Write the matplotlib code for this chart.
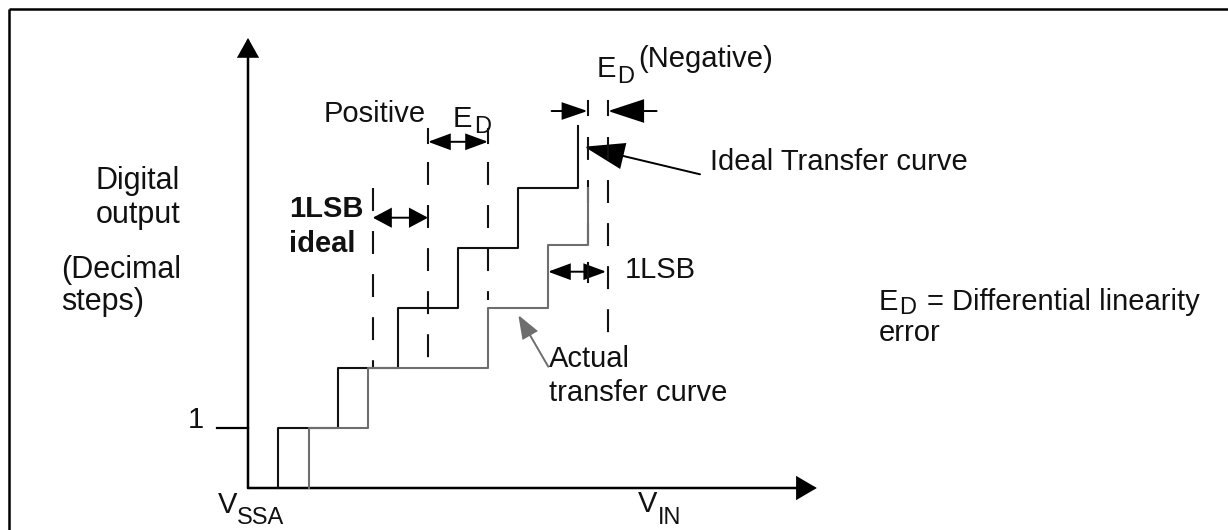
import numpy as np
import matplotlib
matplotlib.use("Agg")
import matplotlib.pyplot as plt
from matplotlib.patches import FancyArrowPatch

plt.rcParams['font.family'] = ['Liberation Sans', 'DejaVu Sans']
plt.rcParams['lines.scale_dashes'] = False

# ---- data (x in LSB, y in output codes) ----
ideal_x = [0.5, 0.5, 1.5, 2.5, 3.5, 4.5, 5.5]
ideal_y = [0, 1, 2, 3, 4, 5, 6.03]
actual_x = [1.02, 1.02, 2.0, 4.0, 5.0, 5.66]
actual_y = [0, 1, 2, 3, 4.05, 5.0]
marker_x = [2.08, 3.0, 4.0, 5.66, 6.0]
marker_top = [5.0, 5.43, 5.43, 5.85, 5.85]
marker_bottom = [2.0, 2.0, 3.13, 4.05, 2.47]
x_axis_end = 9.48
y_axis_end = 7.5
tick_one = 1

PX = 60.0          # pixels per unit
X0, Y0 = 248, 488  # pixel position of the origin

fig = plt.figure(figsize=(12.28, 5.30), dpi=100)
ax = fig.add_axes([0, 0, 1, 1])
ax.set_xlim(-X0 / PX, (1228 - X0) / PX)
ax.set_ylim((Y0 - 530) / PX, Y0 / PX)
ax.axis('off')


def P(px, py):
    return ((px - X0) / PX, (Y0 - py) / PX)


def arrow(p0, p1, style='-|>', hl=16, hw=9, color='black', lw=1.4):
    k = 100 / 72.0
    a = FancyArrowPatch(p0, p1,
                        arrowstyle=f"{style},head_length={hl / k},head_width={hw / k}",
                        mutation_scale=1, shrinkA=0, shrinkB=0,
                        color=color, lw=lw, joinstyle='miter')
    ax.add_patch(a)


BLACK = '#111111'
GRAY = '#6e6e6e'

# frame (left and top)
fx, fy = P(9, 9)
ax.plot([fx, fx], [ax.get_ylim()[0], fy], color='black', lw=1.8, solid_capstyle='butt')
ax.plot([fx, ax.get_xlim()[1]], [fy, fy], color='black', lw=1.8, solid_capstyle='butt')

# axes with arrows
arrow((0, 0), (0, y_axis_end), hl=16, hw=9, color='black', lw=1.8)
arrow((0, 0), (x_axis_end, 0), hl=17, hw=10, color='black', lw=1.8)
ax.plot([-31 / PX, 0], [tick_one, tick_one], color='black', lw=1.6)

# dashed marker lines
for x, t, b in zip(marker_x, marker_top, marker_bottom):
    ax.plot([x, x], [t, b], color=BLACK, lw=1.5, linestyle=(0, (16.5, 14.5)))

# curves
ax.step(ideal_x, ideal_y, where='post', color=BLACK, lw=1.5, zorder=3)
ax.step(actual_x, actual_y, where='post', color=GRAY, lw=1.5, zorder=4)

# small end ticks
for x, (t, b) in [(marker_x[1], (5.98, 5.75)), (marker_x[2], (5.98, 5.75)),
                  (marker_x[3], (6.45, 6.22)), (marker_x[4], (6.45, 6.22)),
                  (marker_x[3], (3.75, 3.43))]:
    ax.plot([x, x], [t, b], color=BLACK, lw=1.5)

# dimension arrows
arrow((marker_x[0], 4.505), (marker_x[1], 4.505), style='<|-|>', hl=16, hw=8.5)
arrow((marker_x[1], 5.77), (marker_x[2], 5.77), style='<|-|>', hl=19, hw=7)
arrow((5.06, 6.283), (marker_x[3], 6.283), style='-|>', hl=22, hw=7.5)
arrow((6.81, 6.283), (marker_x[4], 6.283), style='-|>', hl=32, hw=10.5)
arrow((actual_x[4], 3.605), (5.97, 3.605), style='<|-|>', hl=19, hw=7)
arrow(P(700, 174.3), P(584.3, 146.7), style='-|>', hl=36, hw=12)
arrow(P(548.3, 366.7), P(518.3, 315), style='-|>', hl=20, hw=7.5, color=GRAY)

# texts
FS = 21
SFS = 17


def T(px, py, s, **kw):
    kw.setdefault('fontsize', FS)
    kw.setdefault('va', 'baseline')
    kw.setdefault('ha', 'left')
    kw.setdefault('color', BLACK)
    ax.text(*P(px, py), s, **kw)


T(180, 189, 'Digital', ha='right', fontsize=22)
T(180, 222.7, 'output', ha='right', fontsize=22)
T(61, 278, '(Decimal', fontsize=22)
T(61, 310, 'steps)', fontsize=22)
T(196, 428, '1', ha='center')
T(324, 121.7, 'Positive')
T(453, 126.7, 'E')
T(474, 133.5, 'D', fontsize=SFS)
T(596.7, 76.7, 'E')
T(617, 83, 'D', fontsize=SFS)
T(638, 67, '(Negative)')
T(710, 170, 'Ideal Transfer curve')
T(289, 216.7, '1LSB', fontweight='bold')
T(289, 251.7, 'ideal', fontweight='bold')
T(625, 278.3, '1LSB')
T(549, 367, 'Actual')
T(549, 400.7, 'transfer curve')
T(218.3, 513, 'V')
T(236.7, 524, 'SSA', fontsize=SFS)
T(638.3, 512, 'V')
T(658.3, 524, 'IN', fontsize=SFS)
T(878.3, 310, 'E')
T(899, 314, 'D', fontsize=SFS)
T(927, 310, '= Differential linearity')
T(878.3, 341, 'error')

fig.savefig('out.png', dpi=100, facecolor='white')
